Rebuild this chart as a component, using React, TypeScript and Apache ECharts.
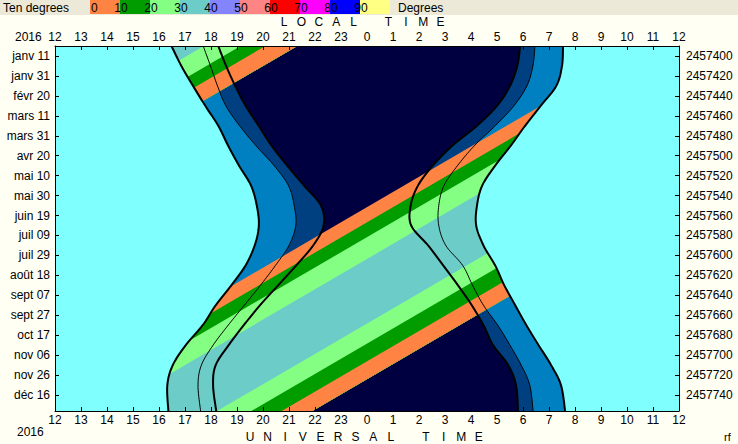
import React, { useEffect, useRef } from 'react';
import * as echarts from 'echarts';

// Day of year 2016 (0 = 1 Jan) at which the Sun curves were read
const DAYS = [0, 20, 40, 60, 80, 100, 120, 140, 160, 180, 200, 220, 240, 260, 280, 300, 320, 340, 366];
// Universal time (hours, 12..36 frame) of the Sun's altitude contours
const SUNSET = [16.48, 16.86, 17.31, 17.78, 18.28, 18.66, 19.08, 19.54, 19.76, 19.84, 19.68, 19.33, 18.78, 18.18, 17.68, 17.03, 16.53, 16.32, 16.36];
const DUSK6 = [17.7, 17.98, 18.25, 18.57, 19.1, 19.73, 20.43, 20.98, 21.2, 21.26, 21.0, 20.48, 19.9, 19.28, 18.66, 18.08, 17.63, 17.5, 17.6];
const DUSK12 = [18.28, 18.58, 18.93, 19.33, 19.83, 20.33, 20.93, 21.58, 22.23, 22.33, 21.93, 21.28, 20.58, 19.88, 19.26, 18.68, 18.18, 18.08, 18.2];
const SUNRISE = [31.54, 31.5, 31.28, 30.68, 30.08, 29.53, 28.93, 28.43, 28.23, 28.2, 28.48, 28.93, 29.28, 29.7, 30.13, 30.6, 31.08, 31.46, 31.62];
const DAWN6 = [30.46, 30.38, 30.15, 29.65, 28.93, 28.13, 27.48, 26.96, 26.76, 26.76, 27.03, 27.68, 28.06, 28.48, 29.03, 29.5, 29.93, 30.26, 30.39];
const DAWN12 = [29.89, 29.78, 29.5, 29.0, 28.23, 27.28, 26.53, 25.96, 25.68, 25.7, 26.35, 26.93, 27.5, 28.03, 28.48, 28.85, 29.43, 29.73, 29.81];

// Object altitude boundaries (0,10,20,30 rising / 30,20,10,0 setting): UT at day 0 and at day 366
const OBJ_TOP = [34.63, 35.63, 36.61, 38.05, 42.31, 43.63, 44.8, 45.98];
const OBJ_BOTTOM = [10.55, 11.55, 12.53, 13.97, 18.23, 19.55, 20.72, 21.9];
const OBJ_PREV_TOP = [10.03, 11.03, 12.01, 13.45, 17.73, 19.14, 20.09, 21.32];
const OBJ_PREV_BOTTOM = [-14.05, -13.05, -12.07, -10.63, -6.35, -4.94, -3.99, -2.76];

const HOUR_LABELS = ['12', '13', '14', '15', '16', '17', '18', '19', '20', '21', '22', '23', '0', '1', '2', '3', '4', '5', '6', '7', '8', '9', '10', '11', '12'];
const DATE_TICKS = [10, 30, 50, 70, 90, 110, 130, 150, 170, 190, 210, 230, 250, 270, 290, 310, 330, 350];
const DATE_LABELS = ['janv 11', 'janv 31', 'févr 20', 'mars 11', 'mars 31', 'avr 20', 'mai 10', 'mai 30', 'juin 19', 'juil 09', 'juil 29', 'août 18', 'sept 07', 'sept 27', 'oct 17', 'nov 06', 'nov 26', 'déc 16'];
const JD_LABELS = ['2457400', '2457420', '2457440', '2457460', '2457480', '2457500', '2457520', '2457540', '2457560', '2457580', '2457600', '2457620', '2457640', '2457660', '2457680', '2457700', '2457720', '2457740'];
const LEGEND_LABELS = ['0', '10', '20', '30', '40', '50', '60', '70', '80', '90'];

const C_ORANGE = '#FF8444';
const C_GREEN = '#009C00';
const C_LGREEN = '#84FF84';
const C_TEAL = '#6CCCC8';
const LEGEND_COLORS = [C_ORANGE, C_GREEN, C_LGREEN, C_TEAL, '#8484FF', '#FF8484', '#FF0000', '#FF00FF', '#0000FF', '#FFFF84'];
const STRIPE_COLORS = [C_ORANGE, C_GREEN, C_LGREEN, C_TEAL, C_LGREEN, C_GREEN, C_ORANGE];

const FONT = 'Liberation Sans, Arial, sans-serif';

function catmull(pts: number[][], seg = 10): number[][] {
  const out: number[][] = [];
  const n = pts.length;
  for (let i = 0; i < n - 1; i++) {
    const p0 = pts[Math.max(i - 1, 0)], p1 = pts[i], p2 = pts[i + 1], p3 = pts[Math.min(i + 2, n - 1)];
    for (let s = 0; s < seg; s++) {
      const t = s / seg, t2 = t * t, t3 = t2 * t;
      out.push([0, 1].map((k) => 0.5 * (2 * p1[k] + (-p0[k] + p2[k]) * t + (2 * p0[k] - 5 * p1[k] + 4 * p2[k] - p3[k]) * t2 + (-p0[k] + 3 * p1[k] - 3 * p2[k] + p3[k]) * t3)));
    }
  }
  out.push(pts[n - 1]);
  return out;
}

function spaced(text: string, cx: number, y: number, step: number) {
  return text.split('').map((ch, i) => ({
    type: 'text', x: cx + i * step, y,
    style: { text: ch, fill: '#000', fontSize: 12, fontFamily: FONT, align: 'center', verticalAlign: 'middle' },
  }));
}

export default function App() {
  const ref = useRef<HTMLDivElement>(null);
  useEffect(() => {
    const chart = echarts.init(ref.current!, null, { renderer: 'svg' });
    const xAx = (position: string) => ({
      type: 'value', position, min: 12, max: 36, interval: 1, z: 10,
      axisLine: { show: true, onZero: false, lineStyle: { color: '#000', width: 1 } },
      axisTick: { show: true, inside: true, length: 4, lineStyle: { color: '#000' } },
      axisLabel: { margin: position === 'top' ? 3 : 3, color: '#000', fontSize: 12, fontFamily: FONT, formatter: (v: number) => HOUR_LABELS[Math.round(v) - 12] ?? '' },
      splitLine: { show: false },
    });
    const yAx = (position: string, labels: string[], margin: number) => ({
      type: 'value', position, inverse: true, min: 0, max: 366, interval: 10, z: 10,
      axisLine: { show: true, onZero: false, lineStyle: { color: '#000', width: 1 } },
      axisTick: { show: true, inside: true, length: 4, customValues: DATE_TICKS, lineStyle: { color: '#000' } },
      axisLabel: { customValues: DATE_TICKS, margin, color: '#000', fontSize: 12, fontFamily: FONT, formatter: (v: number) => labels[DATE_TICKS.indexOf(Math.round(v))] ?? '' },
      splitLine: { show: false },
    });

    const renderItem = (params: any, api: any) => {
      const c = (ut: number, d: number) => api.coord([ut, d]);
      const curve = (arr: number[]) => catmull(DAYS.map((d, i) => c(arr[i], d)));
      const ev0 = curve(SUNSET), ev6 = curve(DUSK6), ev12 = curve(DUSK12);
      const mo0 = curve(SUNRISE), mo6 = curve(DAWN6), mo12 = curve(DAWN12);
      const band = (ev: number[][], mo: number[][], fill: string) => ({
        type: 'polygon', shape: { points: ev.concat(mo.slice().reverse()) }, style: { fill },
      });
      const stripes: any[] = [];
      [[OBJ_TOP, OBJ_BOTTOM], [OBJ_PREV_TOP, OBJ_PREV_BOTTOM]].forEach(([top, bot]) => {
        for (let i = 0; i < 7; i++) {
          stripes.push({
            type: 'polygon',
            shape: { points: [c(top[i], 0), c(bot[i], 366), c(bot[7], 366), c(top[7], 0)] },
            style: { fill: STRIPE_COLORS[i] },
          });
        }
      });
      const line = (pts: number[][], w: number) => ({
        type: 'polyline', shape: { points: pts }, style: { stroke: '#000', lineWidth: w, fill: null },
      });
      const cs = params.coordSys;
      return {
        type: 'group',
        clipPath: { type: 'rect', shape: { x: cs.x, y: cs.y, width: cs.width, height: cs.height } },
        children: [
          { type: 'rect', shape: { x: cs.x, y: cs.y, width: cs.width, height: cs.height }, style: { fill: '#80FFFF' } },
          band(ev0, mo0, '#0080C0'),
          band(ev6, mo6, '#004080'),
          band(ev12, mo12, '#000040'),
          ...stripes,
          { type: 'polygon', shape: { points: [c(12, 0), ...ev0, c(12, 366)] }, style: { fill: '#80FFFF' } },
          { type: 'polygon', shape: { points: [c(36, 0), ...mo0, c(36, 366)] }, style: { fill: '#80FFFF' } },
          line(ev0, 2), line(ev6, 1), line(ev12, 2),
          line(mo0, 2), line(mo6, 1), line(mo12, 2),
        ],
      };
    };

    const legend: any[] = [
      { type: 'rect', shape: { x: 0, y: 0, width: 738, height: 15 }, style: { fill: '#ECE9D8' } },
      { type: 'text', x: 3, y: 8, style: { text: 'Ten degrees', fill: '#000', fontSize: 12, fontFamily: FONT, align: 'left', verticalAlign: 'middle' } },
      ...LEGEND_COLORS.map((col, i) => ({ type: 'rect', shape: { x: 90 + 30 * i, y: 0, width: 30, height: 14 }, style: { fill: col } })),
      ...LEGEND_LABELS.map((t, i) => ({
        type: 'text', x: i === 0 ? 91 : 91 + 30 * i, y: 8,
        style: { text: t, fill: '#000', fontSize: 12, fontFamily: FONT, align: i === 0 ? 'left' : 'center', verticalAlign: 'middle' },
      })),
      { type: 'text', x: 398, y: 8, style: { text: 'Degrees', fill: '#000', fontSize: 12, fontFamily: FONT, align: 'left', verticalAlign: 'middle' } },
      ...spaced('LOCAL TIME', 284, 22, 17.4),
      ...spaced('UNIVERSAL TIME', 250, 437, 17.6),
      { type: 'text', x: 15, y: 37, style: { text: '2016', fill: '#000', fontSize: 12, fontFamily: FONT, align: 'left', verticalAlign: 'middle' } },
      { type: 'text', x: 17, y: 432, style: { text: '2016', fill: '#000', fontSize: 12, fontFamily: FONT, align: 'left', verticalAlign: 'middle' } },
      { type: 'text', x: 724, y: 437, style: { text: 'rf', fill: '#000', fontSize: 11, fontFamily: FONT, align: 'left', verticalAlign: 'middle' } },
    ];

    chart.setOption({
      animation: false,
      backgroundColor: '#FFFFF4',
      grid: { left: 55, top: 46, width: 624, height: 365, show: false },
      xAxis: [xAx('bottom'), xAx('top')],
      yAxis: [yAx('left', DATE_LABELS, 5), yAx('right', JD_LABELS, 7)],
      graphic: { elements: legend },
      series: [{
        type: 'custom', xAxisIndex: 0, yAxisIndex: 0, z: 2, clip: true,
        renderItem, data: [[12, 0]], silent: true,
      }],
    });
    return () => chart.dispose();
  }, []);
  return <div ref={ref} style={{ position: 'fixed', left: 0, top: 0, width: 738, height: 444 }} />;
}
